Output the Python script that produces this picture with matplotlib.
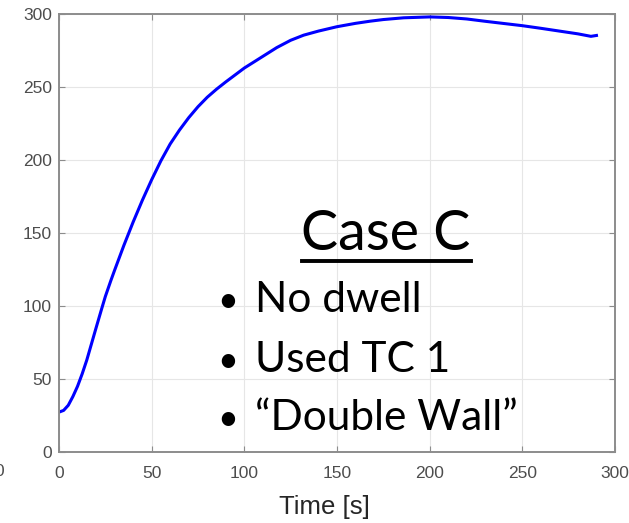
import matplotlib.pyplot as plt
from matplotlib.lines import Line2D

# temperature trace
time_s = [0, 2.5, 5, 7.5, 10, 12.5, 15, 17.5, 20, 23, 25, 28, 30, 35, 37.5, 40,
          45, 50, 55, 60, 65, 70, 75, 80, 85, 90, 100, 110, 117.5, 125, 132,
          140, 150, 160, 168, 175, 186, 200, 210, 220, 225, 230, 240, 250,
          260, 270, 280, 287, 290]
temp = [27.3, 28.5, 32, 38, 45, 53.5, 63, 74, 85, 98, 106.5, 117.5, 124.5, 141.5, 149.5, 157.5,
        172.5, 186.5, 199.5, 211, 220.5, 229, 236.5, 243, 248.5, 253.5, 263, 271, 277, 282, 285.5,
        288.3, 291.3, 293.6, 295.1, 296.2, 297.4, 298, 297.6, 296.6, 295.8, 295, 293.5, 292,
        290.2, 288.3, 286.4, 284.7, 285.3]

x_ticks = [0, 50, 100, 150, 200, 250, 300]
y_ticks = [0, 50, 100, 150, 200, 250, 300]

TICK_COLOR = "#4d4d4d"
AXIS_COLOR = "#8c8c8c"
TICK_FONT = "Liberation Sans"

fig = plt.figure(figsize=(6.29, 5.23), dpi=100)
fig.patch.set_facecolor("white")
ax = fig.add_axes([59 / 629, 1 - 452 / 523, (615 - 59) / 629, (452 - 14) / 523])

ax.plot(time_s, temp, color="#0000ff", linewidth=2.2)

ax.set_xlim(0, 300)
ax.set_ylim(0, 300)
ax.set_xticks(x_ticks)
ax.set_yticks(y_ticks)
ax.grid(True, color="#e6e6e6", linewidth=0.8)
ax.set_axisbelow(True)
ax.tick_params(direction="in", top=True, right=True, length=4, width=0.8,
               colors=AXIS_COLOR, labelcolor=TICK_COLOR, labelsize=12.5)
ax.tick_params(axis="x", pad=10)
ax.tick_params(axis="y", pad=5)
for lab in ax.get_xticklabels() + ax.get_yticklabels():
    lab.set_family(TICK_FONT)
for sp in ax.spines.values():
    sp.set_color(AXIS_COLOR)
    sp.set_linewidth(1.4)

fig.text(324 / 629, 1 - 514 / 523, "Time [s]", fontsize=18.5, color="#262626",
         family=TICK_FONT, ha="center", va="baseline")

# cropped tick label from the neighbouring panel
fig.text(-0.009, 1 - 472 / 523, "0", fontsize=12.5, color=TICK_COLOR,
         family=TICK_FONT, va="center")

# annotation text
fnt = "Lato"
fig.text(386 / 629, 1 - 250 / 523, "Case C", fontsize=40, family=fnt,
         ha="center", va="baseline", color="black")
fig.add_artist(Line2D([302 / 629, 471 / 629], [1 - 261 / 523, 1 - 261 / 523],
                      color="black", linewidth=2.8))
bullets = ["No dwell", "Used TC 1", "\u201cDouble Wall\u201d"]
baselines = [312, 372, 430]
for txt, yb in zip(bullets, baselines):
    fig.text(217 / 629, 1 - yb / 523, "\u2022", fontsize=26, family=fnt,
             va="baseline", color="black")
    fig.text(255 / 629, 1 - yb / 523, txt, fontsize=30.5, family=fnt,
             va="baseline", color="black")

fig.savefig("out.png", dpi=100, facecolor="white")
